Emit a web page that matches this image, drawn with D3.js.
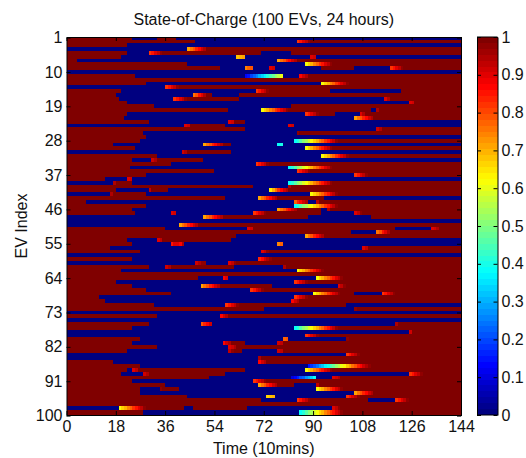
<!DOCTYPE html>
<html>
<head>
<meta charset="utf-8">
<script src="https://cdn.jsdelivr.net/npm/d3@7"></script>
<style>
  html, body { margin: 0; padding: 0; background: #fff; }
  text { font-family: "Liberation Sans", Arial, sans-serif; fill: #111; }
</style>
</head>
<body>
<div id="chart"></div>
<script>
// Tick labels
const xTicks = [0, 18, 36, 54, 72, 90, 108, 126, 144];
const yTicks = [1, 10, 19, 28, 37, 46, 55, 64, 73, 82, 91, 100];
const cbTicks = [0, 0.1, 0.2, 0.3, 0.4, 0.5, 0.6, 0.7, 0.8, 0.9, 1];

// Charging ramps, named by the colour they start on
const fromCyan = [.38, .42, .46, .5, .54, .58, .62, .66, .7, .74, .78, .82, .86, .9, .94, .98];
const fromYellow = [.62, .66, .7, .74, .78, .82, .86, .9, .94, .98];
const fromOrange = [.72, .76, .8, .84, .88, .92, .96];
const fromRed = [.82, .86, .9, .94, .98];

// One list per EV. Each segment: [start column, value per column...], last value holds until next segment
const evRows = [
  [[0,1],[24,0],[33,1],[40,0]],
  [[0,1],[47,0],[84,...fromRed,1]],
  [[0,1],[22,0]],
  [[0,0],[44,...fromOrange,1]],
  [[0,1],[22,0],[30,...fromRed,1],[71,0],[82,1]],
  [[0,1],[20,0],[62,.68,.7,.72],[65,0],[89,.9,.92],[91,0]],
  [[0,1],[4,0],[77,...fromOrange,1]],
  [[0,1],[44,0],[87,...fromYellow,1]],
  [[0,1],[56,0],[65,.75,.78,.8],[68,0],[74,.9,.92],[76,0],[93,1],[105,0],[118,...fromRed,1]],
  [[0,0]],
  [[0,1],[25,0],[65,.12,.15,.19,.22,.26,.3,.33,.37,.41,.44,.48,.52,.56,.6],[79,0],[85,.88,.92,.96,1]],
  [[0,1]],
  [[0,1],[29,0],[93,...fromYellow,1]],
  [[0,0],[36,...fromRed,1]],
  [[0,1],[20,0],[69,...fromRed,1],[96,0],[122,1]],
  [[0,1],[18,0],[46,.76,.8,.85,.9,.95,1],[53,0],[63,1]],
  [[0,1],[19,0],[39,...fromRed,1],[63,0],[116,.9,.95,1]],
  [[0,1],[22,0],[125,.9,.92,1]],
  [[0,1],[32,0],[82,1]],
  [[0,1],[59,0],[71,...fromYellow,1],[111,0],[113,.96,1]],
  [[0,1],[22,0],[87,...fromRed,1],[98,0],[107,.9,.95,1]],
  [[0,1],[21,0],[105,...fromOrange,1]],
  [[0,1],[30,0],[59,.9,.92,1],[65,0]],
  [[0,0],[43,.9,.92,1],[58,0],[81,.9,.92],[83,0]],
  [[0,1],[65,0],[113,.92,.96,1]],
  [[0,1],[28,0],[84,.98,1]],
  [[0,1],[29,0]],
  [[0,1],[27,0],[83,...fromCyan,1]],
  [[0,1],[17,0],[50,...fromOrange,1],[60,0],[77,.38,.4],[79,0]],
  [[0,1],[25,0],[87,...fromYellow,1]],
  [[0,0],[42,.92,.96,1],[60,0]],
  [[0,1],[33,0],[93,...fromYellow,1]],
  [[0,1],[24,0],[31,.92,.96,1],[50,0]],
  [[0,1],[38,0],[69,...fromRed,1]],
  [[0,1],[23,0],[81,...fromCyan,1]],
  [[0,1],[54,0],[84,...fromRed,1]],
  [[0,1],[29,0],[105,...fromRed,1]],
  [[0,1],[14,0],[22,.9,.92],[24,0]],
  [[0,0],[17,.96,1],[24,0],[81,...fromCyan,1]],
  [[0,1],[68,0],[81,.96,1]],
  [[0,1],[18,0],[30,.94,1],[37,0],[74,.64,.7,.76,.82,.88,.92,.96,1]],
  [[0,0],[16,.96,1],[29,0],[89,...fromYellow,1]],
  [[0,1],[58,0],[70,...fromOrange,1],[94,0]],
  [[0,1],[7,0],[83,.78,.84,.88,.92,.96],[88,0],[91,.94,1]],
  [[0,1],[29,0],[83,...fromCyan,1]],
  [[0,1],[24,0],[77,...fromOrange,1],[93,0],[95,.96,1]],
  [[0,1],[25,0],[38,.9,.92],[40,0],[68,...fromRed,1],[93,0],[105,.9,.94,.98,1]],
  [[0,0],[50,...fromOrange,1],[88,0],[111,1]],
  [[0,0]],
  [[0,0],[41,...fromOrange,1]],
  [[0,1],[36,0],[66,.9,.92,1],[120,0],[133,.9,.92,.96,1]],
  [[0,1],[104,0],[113,.76,.8,.85,.9,.95,1]],
  [[0,1],[62,0],[87,...fromOrange,1]],
  [[0,1],[22,0],[33,.9,.94,1],[60,0]],
  [[0,1],[24,0],[38,.86,.9,.9,.88,.96],[43,0],[77,.75,.77],[79,0]],
  [[0,1],[16,0],[108,.9,.94,1]],
  [[0,1],[27,0],[71,.9,.94,.98,1]],
  [[0,0]],
  [[0,1],[24,0],[70,.84,.88,.92,.96,.99,1]],
  [[0,0],[47,.92,.96,.98,.99],[51,0],[59,.9,.94,.98,1]],
  [[0,1],[30,0],[36,.92,.96,1],[61,0],[79,.96,1]],
  [[0,1],[20,0],[84,...fromYellow,1]],
  [[0,1]],
  [[0,1],[48,0],[57,.88,.9],[59,0],[91,...fromYellow,1]],
  [[0,1],[18,0],[83,...fromRed,1]],
  [[0,1],[24,0],[49,...fromOrange,1],[75,0],[99,.9,.94,.98,1]],
  [[0,1],[29,0],[67,...fromRed,1]],
  [[0,1],[38,0],[90,...fromYellow,1],[105,0],[115,...fromRed,1]],
  [[0,1],[12,0],[83,...fromRed,1]],
  [[0,1],[14,0],[82,.88,.92,.96,1]],
  [[0,1],[32,0],[58,...fromRed,1],[102,0]],
  [[0,1],[72,0],[105,.98,1]],
  [[0,0]],
  [[0,1],[33,0],[56,.88,.92,.96,1]],
  [[0,0]],
  [[0,1],[30,0],[49,.8,.84,.88,.92],[53,0],[120,.96,1]],
  [[0,1],[24,0],[83,...fromCyan,1]],
  [[0,0],[125,.92,1]],
  [[0,0],[87,...fromRed,1]],
  [[0,1],[27,0],[79,.78,.8],[81,0],[102,.98,1]],
  [[0,1],[24,0],[57,.88,.92,.96,1],[65,0],[77,.92,.94,1]],
  [[0,1],[33,0],[59,.9,.92,.96,1]],
  [[0,1],[22,0],[59,.94,.98,1],[64,0],[77,.92,.94,1]],
  [[0,0],[102,...fromRed,1]],
  [[0,0],[70,.96,1]],
  [[0,1],[17,0],[70,.88,.92,.96,1]],
  [[0,1],[27,0],[88,.14,.17,.2,.24,.28,.32,.36,.4,.44,.48,.52,.56,.6,.64,.68,.72,.76,.8,.84,.88,.92,.96,.98,1]],
  [[0,1],[22,0],[24,.9,.94,1],[65,0],[87,...fromYellow,1]],
  [[0,1],[20,0],[28,.92,.96,1],[58,0],[125,...fromRed,1]],
  [[0,1],[52,0],[82,.1,.13,.16,.2,.23,.27,.3,.34,.38],[91,0],[97,.9,.92,.96,1]],
  [[0,1],[24,0],[68,...fromRed,1]],
  [[0,1],[36,0],[70,...fromOrange,1],[83,0],[91,.94,1]],
  [[0,1],[27,0],[34,.98,1],[41,0],[91,...fromYellow,1]],
  [[0,1],[27,0],[105,...fromOrange,1]],
  [[0,1],[44,0],[73,.66,.68,.7],[76,0],[102,...fromRed,1]],
  [[0,1],[71,0],[84,...fromRed,1],[110,0],[120,...fromRed,1]],
  [[0,1]],
  [[0,0],[19,...fromYellow,1],[43,0],[46,1],[66,0],[97,.9,.94,.98,1]],
  [[0,1],[28,0],[85,...fromCyan,1]],
  [[0,1],[28,0],[85,...fromCyan,1]]
];

const width = 526;
const height = 458;
const plot = { left: 66.5, right: 461, top: 37, bottom: 415 };
const bar = { left: 477, right: 497.5 };
const fontSize = 16;
const tickLen = 4;

const svg = d3.select("#chart")
  .append("svg")
  .attr("width", width)
  .attr("height", height)
  .style("display", "block");

// MATLAB jet, 64 steps
function jet(v) {
  const t = Math.round(v * 63) / 63;
  const ch = c => Math.max(0, Math.min(1, 1.5 - Math.abs(4 * t - c)));
  return d3.rgb(ch(3) * 255, ch(2) * 255, ch(1) * 255);
}

const x = d3.scaleLinear().domain([0, 144]).range([plot.left, plot.right]);
// rows sit about half a pixel below the frame in the reference
const y = d3.scaleLinear().domain([1, 100]).range([plot.top + 0.6, plot.bottom + 0.6]);
const cb = d3.scaleLinear().domain([0, 1]).range([plot.bottom, plot.top]);

// Flatten segments into one record per drawn run
const cells = [];
evRows.forEach((segments, i) => {
  segments.forEach((seg, j) => {
    const start = seg[0];
    const vals = seg.slice(1);
    const next = j + 1 < segments.length ? segments[j + 1][0] : 144;
    vals.forEach((v, k) => {
      const c0 = start + k;
      const c1 = k === vals.length - 1 ? next : c0 + 1;
      cells.push({ ev: i + 1, c0, c1, v });
    });
  });
});

svg.append("clipPath").attr("id", "plot-clip")
  .append("rect")
  .attr("x", plot.left).attr("y", plot.top)
  .attr("width", plot.right - plot.left).attr("height", plot.bottom - plot.top);

svg.append("g")
  .attr("clip-path", "url(#plot-clip)")
  .append("g")
  .style("filter", "blur(0.35px)")
  .attr("shape-rendering", "crispEdges")
  .selectAll("rect")
  .data(cells)
  .join("rect")
  .attr("x", d => x(d.c0))
  .attr("y", d => y(d.ev - 0.5))
  .attr("width", d => x(d.c1) - x(d.c0))
  .attr("height", d => y(d.ev + 0.5) - y(d.ev - 0.5))
  .attr("fill", d => jet(d.v));

// Colorbar
const steps = d3.range(64);
svg.append("g")
  .attr("shape-rendering", "crispEdges")
  .selectAll("rect")
  .data(steps)
  .join("rect")
  .attr("x", bar.left)
  .attr("width", bar.right - bar.left)
  .attr("y", d => cb((d + 1) / 64))
  .attr("height", d => cb(d / 64) - cb((d + 1) / 64))
  .attr("fill", d => jet(d / 63));

function styleAxis(g, labelled) {
  g.select(".domain").attr("stroke", "#000");
  g.selectAll(".tick line").attr("stroke", "#000");
  g.selectAll(".tick text")
    .style("font-size", fontSize + "px")
    .text(labelled ? function() { return this.textContent; } : null);
}

// Main axes, ticks point inward on all four sides
svg.append("g").attr("transform", `translate(0,${plot.bottom})`)
  .call(d3.axisBottom(x).tickValues(xTicks).tickSizeInner(-tickLen).tickSizeOuter(0).tickPadding(6))
  .call(styleAxis, true);
svg.append("g").attr("transform", `translate(0,${plot.top})`)
  .call(d3.axisTop(x).tickValues(xTicks).tickSizeInner(-tickLen).tickSizeOuter(0))
  .call(styleAxis, false);
svg.append("g").attr("transform", `translate(${plot.left},0)`)
  .call(d3.axisLeft(y).tickValues(yTicks).tickSizeInner(-tickLen).tickSizeOuter(0).tickPadding(4))
  .call(styleAxis, true);
svg.append("g").attr("transform", `translate(${plot.right},0)`)
  .call(d3.axisRight(y).tickValues(yTicks).tickSizeInner(-tickLen).tickSizeOuter(0))
  .call(styleAxis, false);

// Colorbar axes
svg.append("g").attr("transform", `translate(${bar.right},0)`)
  .call(d3.axisRight(cb).tickValues(cbTicks).tickFormat(d3.format("")).tickSizeInner(-tickLen).tickSizeOuter(0).tickPadding(4))
  .call(styleAxis, true);
svg.append("g").attr("transform", `translate(${bar.left},0)`)
  .call(d3.axisLeft(cb).tickValues(cbTicks).tickSizeInner(-tickLen).tickSizeOuter(0))
  .call(styleAxis, false);
svg.append("line").attr("x1", bar.left).attr("x2", bar.right).attr("y1", plot.top).attr("y2", plot.top).attr("stroke", "#000");
svg.append("line").attr("x1", bar.left).attr("x2", bar.right).attr("y1", plot.bottom).attr("y2", plot.bottom).attr("stroke", "#000");

// Labels
svg.append("text")
  .attr("x", (plot.left + plot.right) / 2)
  .attr("y", 25)
  .attr("text-anchor", "middle")
  .style("font-size", fontSize + "px")
  .text("State-of-Charge (100 EVs, 24 hours)");

svg.append("text")
  .attr("x", (plot.left + plot.right) / 2)
  .attr("y", 454)
  .attr("text-anchor", "middle")
  .style("font-size", fontSize + "px")
  .text("Time (10mins)");

svg.append("text")
  .attr("transform", `translate(27,${(plot.top + plot.bottom) / 2}) rotate(-90)`)
  .attr("text-anchor", "middle")
  .style("font-size", fontSize + "px")
  .text("EV Index");
</script>
</body>
</html>
